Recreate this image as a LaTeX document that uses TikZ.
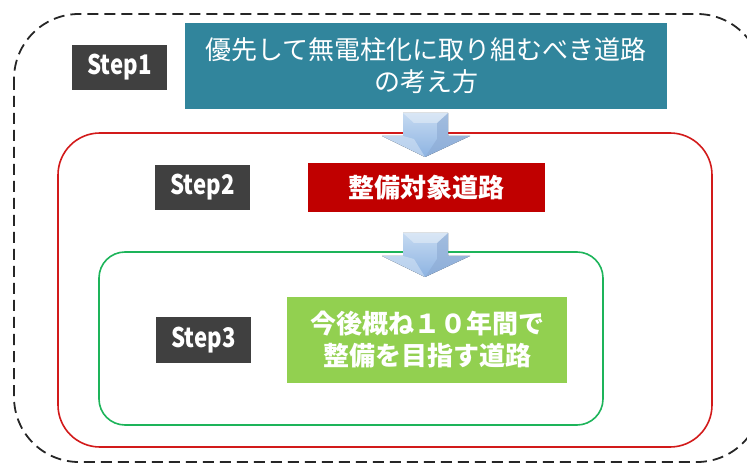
\documentclass[tikz,border=0pt]{standalone}
\usepackage{fontspec}
\newfontfamily\jp{Noto Sans CJK JP}
\newfontfamily\stepfont[FakeStretch=0.82]{Noto Sans CJK JP}
\usetikzlibrary{shapes.geometric}
\definecolor{tealbox}{HTML}{31859C}
\definecolor{redbox}{HTML}{C00000}
\definecolor{greenbox}{HTML}{92D050}
\definecolor{redline}{HTML}{D21A1A}
\definecolor{greenline}{HTML}{1DB45A}
\definecolor{stepgray}{HTML}{404040}
\definecolor{arrowlight}{HTML}{C5DAF1}
\definecolor{arrowmid}{HTML}{8DB3E2}
\definecolor{arrowdark}{HTML}{5B85C0}
\tikzset{
  steplabel/.style={fill=stepgray, text=white, font=\stepfont\bfseries\fontsize{27}{30}\selectfont, inner sep=0pt, minimum width=95pt, minimum height=45pt},
  mainbox/.style={text=white, font=\jp\fontsize{26}{32}\selectfont, align=center, inner sep=0pt},
}
\newcommand{\downarrowshape}[2]{%
  \fill[top color=arrowlight, bottom color=arrowmid] (#1-22,#2) -- (#1+23,#2) -- (#1+23,#2+23) -- (#1+45,#2+23) -- (#1,#2+44) -- (#1-43,#2+23) -- (#1-22,#2+23) -- cycle;
  \fill[arrowdark!70, opacity=0.6] (#1+23,#2) -- (#1+23,#2+23) -- (#1+45,#2+23) -- (#1,#2+44) -- (#1+12,#2+26) -- (#1+12,#2+10) -- cycle;
  \fill[white, opacity=0.35] (#1-22,#2) -- (#1+23,#2) -- (#1+12,#2+10) -- (#1-11,#2+10) -- cycle;
  \fill[arrowlight!60!white, opacity=0.5] (#1-43,#2+23) -- (#1-22,#2+23) -- (#1-11,#2+26) -- (#1,#2+44) -- cycle;
}
\begin{document}
\begin{tikzpicture}[x=1pt,y=-1pt]
\useasboundingbox (0,0) rectangle (747,470);
% outer dashed frame
\draw[line width=1.8pt, black!85, dash pattern=on 11pt off 6pt, rounded corners=65pt] (14,14) rectangle (762,462);
% red frame
\draw[line width=1.6pt, redline, rounded corners=42pt] (58,133) rectangle (712,447);
% green frame
\draw[line width=1.6pt, greenline, rounded corners=26pt] (99,252) rectangle (603,425);

% Step1
\node[steplabel] (s1) at (119.5,67.5) {Step1};
\node[mainbox, fill=tealbox, minimum width=482pt, minimum height=86pt] (b1) at (426,66) {優先して無電柱化に取り組むべき道路\\の考え方};
% Step2
\node[steplabel] (s2) at (202.5,187.5) {Step2};
\node[mainbox, fill=redbox, minimum width=237pt, minimum height=49pt, font=\jp\bfseries\fontsize{26}{32}\selectfont] (b2) at (426.5,187.5) {整備対象道路};
% Step3
\node[steplabel] (s3) at (203.5,340) {Step3};
\node[mainbox, fill=greenbox, minimum width=280pt, minimum height=86pt, font=\jp\bfseries\fontsize{26}{32}\selectfont] (b3) at (427,340) {今後概ね１０年間で\\整備を目指す道路};

% arrows
\downarrowshape{425}{113}
\downarrowshape{425}{233}
\end{tikzpicture}
\end{document}
